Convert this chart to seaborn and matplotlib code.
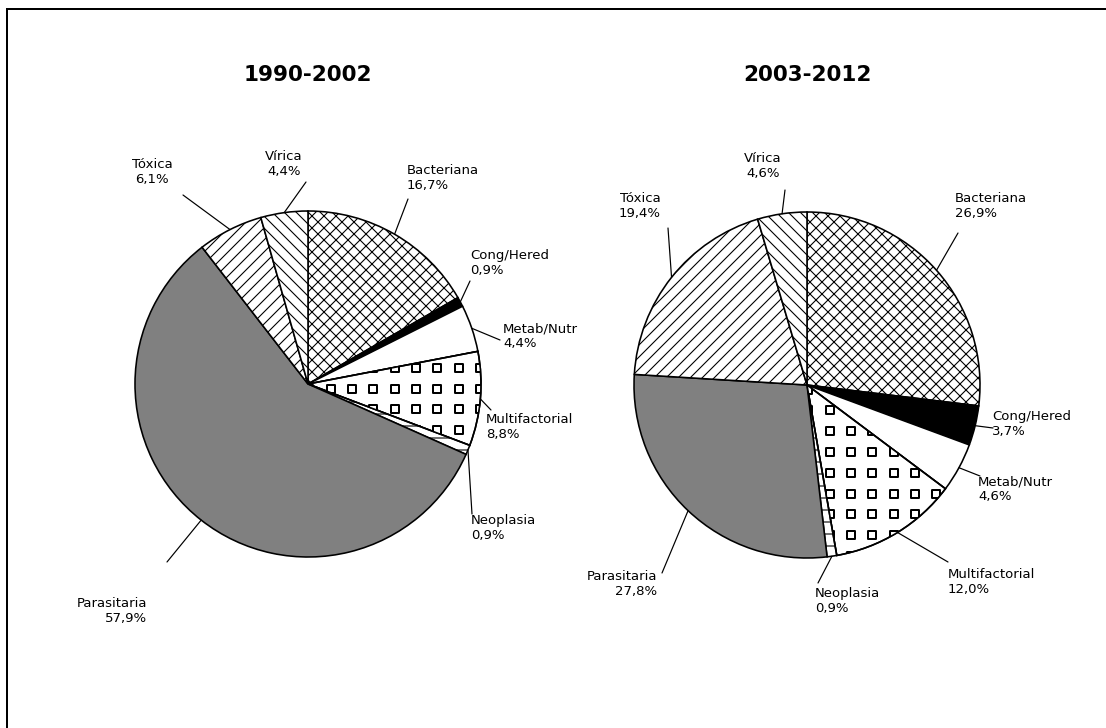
import numpy as np
import matplotlib
matplotlib.use("Agg")
import matplotlib.pyplot as plt
from matplotlib.patches import Wedge
import seaborn as sns

# Causes of disease, share of diagnosed cases (%) for each period
categories = ["Bacteriana", "Cong/Hered", "Metab/Nutr", "Multifactorial",
              "Neoplasia", "Parasitaria", "Tóxica", "Vírica"]
periods = ["1990-2002", "2003-2012"]
pct_1990_2002 = [16.7, 0.9, 4.4, 8.8, 0.9, 57.9, 6.1, 4.4]
pct_2003_2012 = [26.9, 3.7, 4.6, 12.0, 0.9, 27.8, 19.4, 4.6]

# Fill style of every category
faces = ["white", "black", "white", "white", "white", "#808080", "white", "white"]
hatches = ["xx", None, None, None, "-", None, "//", "\\\\"]

sns.set_theme(style="white")
plt.rcParams["font.family"] = ["DejaVu Sans"]
plt.rcParams["hatch.linewidth"] = 1.1

W, H = 1106, 728
DPI = 72
fig = plt.figure(figsize=(W / DPI, H / DPI), dpi=DPI)
fig.patch.set_facecolor("white")
ax = fig.add_axes([0, 0, 1, 1])


def up(y):
    return H - y


# pie centre / radius in pixels, then per-label layout:
# (text x, text y, alignment, leader end x, leader end y)
layouts = [
    dict(cx=308, cy=384, r=173, labels=[
        (407, 178, "left", 408, 199),
        (470, 263, "left", 470, 281),
        (503, 336, "left", 500, 340),
        (486, 427, "left", 491, 410),
        (471, 528, "left", 472, 514),
        (147, 611, "right", 167, 562),
        (152, 172, "center", 183, 195),
        (284, 164, "center", 306, 182),
    ]),
    dict(cx=807, cy=385, r=173, labels=[
        (955, 206, "left", 958, 233),
        (992, 424, "left", 993, 428),
        (978, 489, "left", 980, 476),
        (948, 582, "left", 948, 562),
        (815, 601, "left", 818, 583),
        (657, 584, "right", 662, 573),
        (640, 206, "center", 668, 228),
        (763, 166, "center", 785, 190),
    ]),
]

for period, values, lay in zip(periods, [pct_1990_2002, pct_2003_2012], layouts):
    cx, cy, r = lay["cx"], up(lay["cy"]), lay["r"]
    wedges, _ = ax.pie(values, startangle=90, counterclock=False,
                       center=(cx, cy), radius=r, colors=faces,
                       hatch=hatches,
                       wedgeprops=dict(edgecolor="black", linewidth=1.6))

    # small open squares pattern for the Multifactorial slice
    multi = wedges[categories.index("Multifactorial")]
    gx, gy = np.meshgrid(np.arange(cx - r + 4, cx + r, 21.3),
                         np.arange(cy - r + 2, cy + r, 20.8))
    sq = ax.scatter(gx.ravel(), gy.ravel(), marker="s", s=50,
                    facecolor="white", edgecolor="black", linewidths=2.0,
                    zorder=3)
    sq.set_clip_path(multi)
    ax.add_patch(Wedge((cx, cy), r, multi.theta1, multi.theta2, fill=False,
                       edgecolor="black", lw=1.6, zorder=4))

    for w, cat, val, (tx, ty, ha, ex, ey) in zip(wedges, categories, values,
                                                 lay["labels"]):
        mid = np.deg2rad((w.theta1 + w.theta2) / 2)
        sx, sy = cx + r * np.cos(mid), cy + r * np.sin(mid)
        ax.plot([sx, ex], [sy, up(ey)], color="black", lw=1.2, zorder=5)
        txt = f"{cat}\n{val:.1f}".replace(".", ",") + "%"
        ax.text(tx, up(ty), txt, ha=ha, va="center", multialignment=ha,
                fontsize=13.3, linespacing=1.12, color="black", zorder=6)

    ax.text(cx, up(75), period, ha="center", va="center", fontsize=21.5,
            fontweight="bold", color="black")

# outer frame of the chart area
ax.plot([7, 7, W + 10], [-10, up(9), up(9)], color="black", lw=2.0,
        clip_on=False, solid_joinstyle="miter")

ax.set_xlim(0, W)
ax.set_ylim(0, H)
ax.set_aspect("auto")
ax.axis("off")

fig.savefig("out.png", dpi=DPI, facecolor="white")
